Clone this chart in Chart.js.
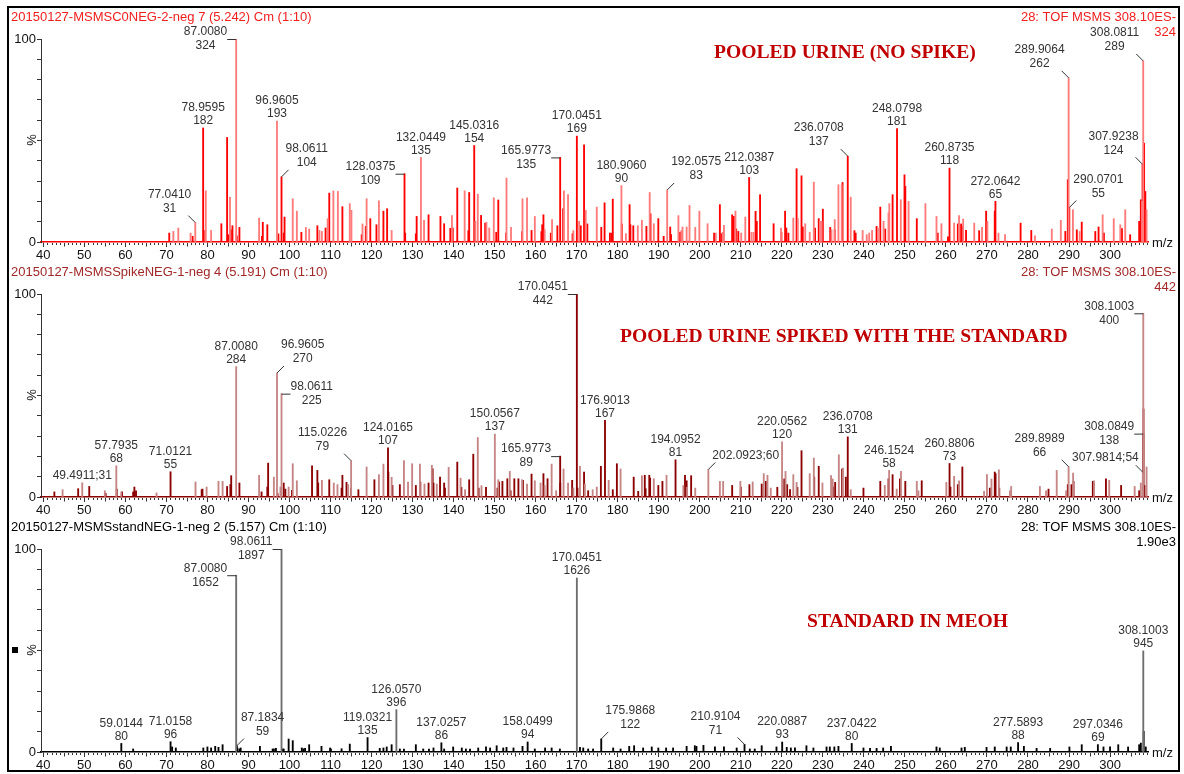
<!DOCTYPE html>
<html><head><meta charset="utf-8">
<script src="https://cdn.jsdelivr.net/npm/chart.js@4.4.1/dist/chart.umd.min.js"></script>
<style>
html,body{margin:0;padding:0;background:#fff;}
#wrap{position:relative;width:1184px;height:774px;overflow:hidden;background:#fff;}
#frame{position:absolute;left:7px;top:6px;width:1169px;height:762px;border:2px solid #000;pointer-events:none;}
canvas{position:absolute;left:0;}
</style></head><body>
<div id="wrap">
<canvas id="c1" width="1184" height="264" style="top:0px"></canvas>
<canvas id="c2" width="1184" height="264" style="top:255px"></canvas>
<canvas id="c3" width="1184" height="264" style="top:510px"></canvas>
<div id="frame"></div>
</div>
<script>
// ---------- axis ticks ----------
const xTickValues = [40,50,60,70,80,90,100,110,120,130,140,150,160,170,180,190,200,210,220,230,240,250,260,270,280,290,300];
const yTickValues = [0,10,20,30,40,50,60,70,80,90,100];
const yLabeledTicks = [0,100];

// ---------- panel titles ----------
const titles = ["20150127-MSMSC0NEG-2-neg 7 (5.242) Cm (1:10)", "20150127-MSMSSpikeNEG-1-neg 4 (5.191) Cm (1:10)", "20150127-MSMSstandNEG-1-neg 2 (5.157) Cm (1:10)"];
const functionText = "28: TOF MSMS 308.10ES-";
const baseText = ["324", "442", "1.90e3"];
const sampleNames = ["POOLED URINE (NO SPIKE)", "POOLED URINE SPIKED WITH THE STANDARD", "STANDARD IN MEOH"];
const baseIntensity = [324, 442, 1897];

// ---------- panel 1: pooled urine (no spike) ----------
const p1LightMz = [71.7,72.9,75.9,79.6,80.9,85.5,92.6,100.8,101.8,104.0,104.8,107.3,107.9,109.3,110.7,111.8,114.7,115.1,117.8,118.8,121.8,124.9,132.8,139.6,142.7,145.3,145.9,148.0,148.7,149.8,152.9,154.0,156.8,157.9,159.8,162.2,164.0,166.9,167.9,169.2,170.6,172.2,174.9,182.0,184.9,185.9,187.8,188.8,194.8,195.5,195.8,196.8,197.5,198.9,199.9,201.9,203.9,205.6,205.9,208.7,210.1,211.1,212.6,213.1,219.8,222.8,223.9,225.7,226.8,227.8,229.3,229.7,232.1,232.9,233.8,234.6,236.8,239.7,240.7,241.3,242.0,243.7,244.8,246.0,246.2,249.0,250.9,255.0,257.7,258.9,262.0,263.2,264.2,266.9,268.8,270.1,272.8,274.4,281.7,285.8,288.0,290.95,292.6,298.2,300.9,302.5,303.7,307.8,308.9];
const p1LightPct = [5.2,6.9,4.4,25.2,5.7,22.0,11.8,21.3,15.2,7.2,6.4,5.7,5.2,11.5,25.2,24.9,18.9,15.6,8.9,21.3,20.3,5.7,10.7,13.0,25.2,10.2,23.6,9.7,6.9,21.8,31.5,7.2,21.3,21.8,12.6,6.1,11.0,25.2,23.3,5.6,10.2,15.6,17.2,4.1,8.0,10.7,24.4,9.0,13.0,5.6,7.4,7.4,18.0,7.2,15.2,9.0,4.4,4.8,8.2,15.2,4.4,12.3,4.8,4.8,6.9,11.8,11.5,9.0,4.8,29.5,10.2,10.2,6.0,11.0,28.2,28.2,22.1,5.7,3.6,4.4,5.7,6.9,10.2,14.3,18.9,20.8,20.0,18.9,12.6,9.0,9.3,13.0,11.3,9.3,7.2,10.2,4.4,3.6,3.1,6.4,10.7,15.9,5.2,13.4,11.5,8.5,15.9,20.0,15.9];
const p1DarkMz = [70.7,76.4,79.1,83.4,84.8,85.1,85.7,86.1,87.15,87.8,93.3,93.5,94.6,97.3,98.6,98.8,102.9,106.8,108.8,109.7,112.9,117.6,118.6,119.7,121.2,122.9,123.8,128.2,130.8,131.0,133.9,136.8,137.7,139.2,139.8,140.9,143.6,143.8,146.7,147.7,150.4,150.9,152.8,156.7,159.0,161.4,161.6,161.9,163.7,165.3,166.7,169.0,171.0,171.8,172.6,176.0,176.8,178.1,178.5,178.8,181.0,182.9,183.1,183.8,187.0,188.0,189.9,191.2,192.8,193.0,195.2,203.5,204.9,205.3,207.9,208.3,208.9,209.4,213.6,213.9,214.7,218.0,219.9,220.8,221.1,221.6,223.6,224.8,225.1,228.1,229.0,230.0,231.8,232.9,234.8,237.7,238.0,243.1,244.0,245.2,247.0,249.9,250.1,252.9,258.0,260.5,262.9,263.7,264.0,264.9,268.1,269.8,271.9,278.2,280.8,289.1,289.7,291.9,293.1,296.4,297.2,298.5,302.9,304.9,307.1,307.5,308.3,308.6];
const p1DarkPct = [4.4,2.8,5.7,9.0,51.5,3.6,6.0,8.0,3.0,7.2,2.8,9.7,8.5,4.0,4.4,12.3,4.8,8.0,6.9,24.1,17.4,3.6,7.7,11.5,8.5,15.2,16.4,4.4,4.0,12.6,13.4,12.6,9.0,6.7,6.9,26.6,5.6,24.4,13.1,9.3,4.8,20.7,4.4,5.1,5.7,5.1,8.5,13.4,4.4,8.0,16.4,4.1,8.0,47.9,8.9,7.2,19.3,4.4,4.4,21.1,8.9,18.4,8.5,8.0,7.7,13.9,11.5,2.8,7.4,3.6,4.8,4.4,18.4,4.1,13.4,12.6,6.4,5.2,15.1,10.2,23.3,9.0,4.8,15.2,6.9,4.4,36.1,32.6,7.4,6.9,11.5,16.2,7.2,6.0,29.3,5.6,4.4,7.7,17.2,6.4,23.3,33.1,27.4,11.5,4.4,2.5,8.9,8.9,7.7,5.7,5.6,15.2,15.2,9.3,5.7,5.2,30.7,6.0,9.8,5.2,7.4,4.4,6.6,3.6,10.2,20.8,48.7,24.9];
const p1PeakMz = [77.0410,78.9595,87.0080,96.9605,98.0611,128.0375,132.0449,145.0316,165.9773,170.0451,180.9060,192.0575,212.0387,236.0708,248.0798,260.8735,272.0642,289.9064,290.0701,307.9238,308.0811];
const p1PeakInt = [31,182,324,193,104,109,135,154,135,169,90,83,103,137,181,118,65,262,55,124,289];

// ---------- panel 2: pooled urine spiked ----------
const p2LightMz = [44.7,55.0,59.0,67.6,77.1,79.8,82.7,83.7,92.6,96.2,97.8,99.8,100.8,101.8,107.9,110.8,111.7,114.3,118.8,121.8,122.9,124.9,127.9,128.9,129.9,131.8,132.9,134.7,135.9,138.8,141.7,142.8,145.9,146.8,150.9,153.7,156.7,157.9,159.8,161.2,162.2,163.9,165.0,166.8,167.9,169.2,170.8,172.0,173.9,174.9,177.8,180.7,185.9,188.8,191.9,196.0,196.9,198.9,204.9,205.7,209.9,212.9,215.6,216.5,217.3,220.9,222.8,223.6,226.8,227.8,229.9,232.0,232.4,233.9,234.9,236.8,245.1,248.0,249.05,252.9,253.3,260.1,262.0,263.2,269.3,270.0,271.1,272.9,275.6,275.9,282.9,284.4,287.0,289.3,291.0,296.1,299.8,306.0,307.5,308.9];
const p2LightPct = [3.6,3.1,2.5,2.0,7.4,4.9,7.7,7.7,10.7,9.8,4.9,4.9,16.4,8.0,8.2,6.9,6.1,6.1,14.8,11.0,16.2,9.7,17.9,7.4,16.4,16.2,6.4,15.6,6.4,14.6,9.3,3.6,29.3,5.6,8.5,12.6,8.5,6.4,8.0,6.9,5.7,16.2,3.1,13.8,6.9,4.4,15.1,6.4,3.6,4.9,8.2,13.8,10.5,9.0,10.7,5.7,4.8,4.4,7.7,7.7,7.7,7.4,11.5,10.7,4.4,12.6,11.0,7.2,11.5,19.2,6.9,10.5,8.9,20.8,14.3,3.6,5.7,3.9,12.6,7.7,3.1,7.2,10.2,8.0,2.8,11.0,8.9,13.4,3.1,5.2,5.2,3.1,13.1,3.1,11.8,8.0,8.2,5.2,6.9,14.8];
const p2DarkMz = [42.7,48.5,51.2,55.2,57.9,59.2,61.9,62.2,62.6,78.6,78.8,84.8,85.6,85.8,87.8,93.2,94.6,94.8,97.1,98.6,99.0,100.6,105.5,106.8,107.0,109.7,112.7,112.9,113.9,115.0,116.8,120.7,124.1,125.1,126.9,130.8,131.9,133.9,134.9,135.1,136.7,137.7,137.9,140.9,141.9,143.8,144.8,146.1,147.9,150.7,151.1,151.9,153.1,153.9,154.8,155.8,156.9,159.0,161.9,162.9,166.0,168.9,170.2,171.8,172.8,175.9,178.8,179.8,183.9,185.0,186.6,186.8,187.7,187.9,189.9,190.9,196.4,196.8,197.9,207.9,210.0,212.1,215.1,216.1,218.9,220.6,221.3,222.0,223.8,224.8,227.9,229.0,232.5,233.0,234.7,235.6,239.9,244.0,246.0,247.0,248.8,250.1,254.1,261.1,262.9,264.0,270.7,271.9,272.1,273.0,285.0,289.7,290.6,291.1,295.8,299.0,302.7,307.1,308.15,308.4];
const p2DarkPct = [2.5,4.1,5.2,1.8,3.9,2.5,2.5,4.9,3.1,3.6,3.9,5.2,6.1,10.5,6.9,2.5,4.9,16.7,1.8,6.9,3.9,3.3,15.4,13.1,6.9,8.5,4.4,10.7,7.2,4.4,3.6,8.5,12.3,5.7,6.1,5.7,7.4,6.9,13.9,6.9,9.8,6.9,4.4,17.2,4.8,8.5,21.1,4.4,4.8,4.4,7.4,7.7,9.0,3.1,9.0,9.0,8.2,11.3,11.5,9.0,6.9,8.2,4.4,12.3,3.1,15.1,3.6,16.4,9.8,2.8,10.7,4.1,10.7,9.3,5.7,7.7,10.7,8.0,10.5,5.7,4.9,6.1,6.4,7.7,4.8,8.9,6.1,3.6,4.8,22.8,9.8,15.1,4.9,7.2,13.8,9.8,4.4,7.7,9.0,11.0,9.0,7.7,8.0,4.9,6.1,14.8,4.4,12.3,11.5,4.4,3.9,6.1,6.1,7.7,7.7,9.0,5.7,3.1,43.4,5.7];
const p2PeakMz = [49.4911,57.7935,71.0121,87.0080,96.9605,98.0611,115.0226,124.0165,150.0567,165.9773,170.0451,176.9013,194.0952,202.0923,220.0562,236.0708,246.1524,260.8806,289.8989,307.9814,308.0849,308.1003];
const p2PeakInt = [31,68,55,284,270,225,79,107,137,89,442,167,81,60,120,131,58,73,66,54,138,400];

// ---------- panel 3: standard in MeOH ----------
const p3SmallMz = [61.9,71.4,72.3,79.0,80.0,80.9,81.9,82.7,83.7,87.3,87.8,88.1,92.8,95.9,96.2,96.7,98.3,98.6,99.8,100.8,103.0,103.4,103.8,104.8,107.8,109.9,110.1,112.7,114.7,122.0,122.9,123.7,124.9,126.9,127.9,130.8,132.6,134.0,135.1,137.7,139.9,142.0,143.0,144.0,146.0,147.9,148.9,150.5,152.1,152.9,154.6,156.8,159.8,162.3,163.9,165.9,170.8,171.6,172.8,174.0,178.9,180.7,182.8,184.0,186.2,188.3,189.9,191.8,193.5,196.8,198.8,199.2,200.9,203.7,205.9,209.0,212.2,213.4,215.1,218.7,221.2,222.2,223.2,226.0,227.7,230.9,231.7,232.8,233.8,239.9,241.5,243.1,244.7,246.6,257.7,258.5,263.8,264.6,269.9,271.9,274.8,275.8,279.0,282.1,285.4,290.1,293.1,298.4,300.0,302.0,304.4,307.1,307.5,308.2,308.7];
const p3SmallPct = [1.5,2.5,2.0,2.0,2.5,2.0,2.8,2.3,3.6,2.0,1.5,2.0,2.8,1.5,1.5,1.8,1.5,1.5,6.4,5.6,2.0,1.6,1.8,3.6,2.8,2.0,1.5,1.6,3.9,1.8,2.0,2.5,3.6,1.5,1.5,3.6,1.5,1.5,2.0,1.5,2.5,2.0,1.5,1.5,2.0,2.5,2.0,3.1,2.0,2.3,2.0,2.8,1.5,2.0,2.0,1.5,2.3,2.0,1.5,1.5,2.0,1.5,2.8,3.1,2.0,2.5,2.0,2.0,2.0,2.8,3.1,2.8,3.3,2.5,2.5,2.0,1.5,1.5,3.1,2.5,2.3,2.0,2.0,3.1,2.0,2.5,2.5,2.5,2.8,2.0,1.8,1.8,2.0,2.8,2.5,2.0,2.0,2.3,2.3,2.5,2.5,2.5,2.8,1.8,1.8,2.5,3.6,2.5,2.5,3.6,2.5,3.6,4.4,10.2,2.5];
const p3PeakMz = [59.0144,71.0158,87.0080,87.1834,98.0611,119.0321,126.0570,137.0257,158.0499,170.0451,175.9868,210.9104,220.0887,237.0422,277.5893,297.0346,308.1003];
const p3PeakInt = [80,96,1652,59,1897,135,396,86,94,1626,122,71,93,80,88,69,945];

// ---------- styles / layout (kept apart from the data) ----------
const SANS = "'Liberation Sans', Arial, sans-serif";
const SERIF = "'Liberation Serif', 'Times New Roman', serif";
const xMin = 39.44, xMax = 309.25;
const p1PeakTone = ['L','D','L','L','D','D','L','D','D','D','L','L','D','D','D','D','D','L','D','D','L'];
const p1PeakMode = ['ld','a','lh','a','rd','lh','a','a','lh','a','a','rd','a','ld','a','a','a','ld','rd','ld','ld'];
const p2PeakTone = ['L','L','D','L','L','L','L','D','L','D','D','D','D','L','L','D','L','D','L','L','D','L'];
const p2PeakMode = ['a1','a','a','a','rd','rh','ld','a','a','lh','lh','a','a','rd1','a','a','a','a','ld','ld1','lh','lh'];
const p3PeakTone = ['D','D','L','D','L','D','L','D','D','L','D','D','D','D','D','D','L'];
const p3PeakMode = ['a','a','lh','rd','lh','a','a','a','a','a','rd','ld','a','a','a','a','a'];

function pts(mz, pct){ return mz.map((m,i)=>({x:m, y:pct[i]})); }
function peakPts(mz, ints, base, tone, want){
  const out=[]; mz.forEach((m,i)=>{ if(tone[i]===want) out.push({x:m, y:ints[i]/base*100}); }); return out;
}

const minorTickPlugin = {
  id:'minorTicks',
  afterDraw(chart){
    const ctx=chart.ctx, xs=chart.scales.x, b=chart.chartArea.bottom;
    ctx.save(); ctx.strokeStyle='#333'; ctx.lineWidth=1;
    for(let v=Math.ceil(xMin); v<=Math.floor(xMax); v++){
      if(v%10===0) continue;
      const len = (v%5===0)?3.5:2;
      const px=Math.round(xs.getPixelForValue(v))+0.5;
      ctx.beginPath(); ctx.moveTo(px,b+1); ctx.lineTo(px,b+1+len); ctx.stroke();
    }
    ctx.restore();
  }
};

function makeTextPlugin(idx, cfg){
  return {
    id:'texts'+idx,
    afterDraw(chart){
      const ctx=chart.ctx, xs=chart.scales.x, ys=chart.scales.y;
      ctx.save();
      ctx.font='13px '+SANS; ctx.textBaseline='middle';
      ctx.fillStyle=cfg.titleColor; ctx.textAlign='left';
      ctx.fillText(titles[idx], 11, 17);
      ctx.textAlign='right';
      ctx.fillText(functionText, 1176, 17);
      ctx.fillText(baseText[idx], 1176, 32);
      ctx.font='bold 19.6px '+SERIF; ctx.fillStyle='#c00000'; ctx.textAlign='left';
      ctx.fillText(sampleNames[idx], cfg.nameX, cfg.nameY);
      ctx.save(); ctx.translate(32, 140); ctx.rotate(-Math.PI/2);
      ctx.font='13px '+SANS; ctx.fillStyle='#111'; ctx.textAlign='center';
      ctx.fillText('%',0,0); ctx.restore();
      ctx.font='13px '+SANS; ctx.fillStyle='#111'; ctx.textAlign='left';
      ctx.fillText('m/z', 1152, 243);
      if(cfg.square){ ctx.fillStyle='#000'; ctx.fillRect(12,137,6,6); }
      ctx.font='12px '+SANS; ctx.fillStyle='#333'; ctx.strokeStyle='#333'; ctx.lineWidth=1;
      cfg.peakMz.forEach((m,i)=>{
        const mode=cfg.peakMode[i];
        const single = mode.endsWith('1');
        const md = single? mode.slice(0,-1) : mode;
        const bx = xs.getPixelForValue(m);
        const top = ys.getPixelForValue(cfg.peakInt[i]/cfg.base*100);
        const mzT = m.toFixed(4), inT = String(cfg.peakInt[i]);
        const l1 = single? mzT+';'+inT : mzT;
        const w1 = ctx.measureText(l1).width;
        let cx, y1, y2;
        const line=(a,b,c,d)=>{ctx.beginPath();ctx.moveTo(a,b);ctx.lineTo(c,d);ctx.stroke();};
        if(md==='a'){ cx=bx; y1= single? top-7 : top-20; y2=top-7; }
        else if(md==='lh'){ cx=bx-9-w1/2; y1=top-7; y2=top+7; line(bx-9,top+0.5,bx,top+0.5); }
        else if(md==='rh'){ cx=bx+9+w1/2; y1=top-7; y2=top+7; line(bx,top+0.5,bx+9,top+0.5); }
        else if(md==='ld'){ cx=bx-4-w1/2; y1= single? top-15: top-28; y2=top-14; line(bx-7,top-7,bx,top); }
        else if(md==='rd'){ cx=bx+4+w1/2; y1= single? top-14: top-28; y2=top-14; line(bx,top,bx+7,top-7); }
        ctx.textAlign='center';
        ctx.fillText(l1, cx, y1);
        if(!single) ctx.fillText(inT, cx, y2);
      });
      ctx.restore();
    }
  };
}

function makePanel(canvasId, idx, cfg){
  const dsCommon = {barThickness:1.2, grouped:false, borderWidth:0, categoryPercentage:1, barPercentage:1};
  new Chart(document.getElementById(canvasId).getContext('2d'), {
    type:'bar',
    data:{datasets:[
      Object.assign({data: cfg.lightData, backgroundColor: cfg.lightColor}, dsCommon),
      Object.assign({data: cfg.darkData, backgroundColor: cfg.darkColor}, dsCommon)
    ]},
    options:{
      responsive:false, animation:false, events:[],
      layout:{padding:{top:39,right:36,bottom:0,left:0}},
      plugins:{legend:{display:false}, tooltip:{enabled:false}, title:{display:false}},
      scales:{
        x:{type:'linear', min:xMin, max:xMax, offset:false,
          afterBuildTicks:s=>{ s.ticks = xTickValues.map(v=>({value:v})); },
          afterFit:s=>{ s.height=22; },
          grid:{display:true, offset:false, drawOnChartArea:false, drawTicks:true, tickLength:5, tickColor:'#333', tickWidth:1},
          border:{display:true, color:cfg.baseColor, width:1.5},
          ticks:{font:{family:SANS,size:13}, color:'#111', padding:1, maxRotation:0, autoSkip:false, includeBounds:false, callback:v=>String(v)}
        },
        y:{type:'linear', min:0, max:100,
          afterBuildTicks:s=>{ s.ticks = yTickValues.map(v=>({value:v})); },
          afterFit:s=>{ s.width=41; },
          grid:{display:true, drawOnChartArea:false, drawTicks:true, tickLength:4, tickColor:'#333'},
          border:{display:true, color:'#333', width:1},
          ticks:{font:{family:SANS,size:13}, color:'#111', padding:1, autoSkip:false, callback:v=> yLabeledTicks.includes(v)? String(v):''}
        }
      }
    },
    plugins:[minorTickPlugin, makeTextPlugin(idx, cfg)]
  });
}

makePanel('c1', 0, {
  lightData: pts(p1LightMz,p1LightPct).concat(peakPts(p1PeakMz,p1PeakInt,baseIntensity[0],p1PeakTone,'L')),
  darkData: pts(p1DarkMz,p1DarkPct).concat(peakPts(p1PeakMz,p1PeakInt,baseIntensity[0],p1PeakTone,'D')),
  lightColor:'#ff7b7b', darkColor:'#ff0000', baseColor:'#ff0000', titleColor:'#f02020',
  nameX:714, nameY:53, peakMz:p1PeakMz, peakInt:p1PeakInt, peakMode:p1PeakMode, base:baseIntensity[0]
});
makePanel('c2', 1, {
  lightData: pts(p2LightMz,p2LightPct).concat(peakPts(p2PeakMz,p2PeakInt,baseIntensity[1],p2PeakTone,'L')),
  darkData: pts(p2DarkMz,p2DarkPct).concat(peakPts(p2PeakMz,p2PeakInt,baseIntensity[1],p2PeakTone,'D')),
  lightColor:'#c58585', darkColor:'#8b0000', baseColor:'#8b0000', titleColor:'#a02828',
  nameX:620, nameY:82, peakMz:p2PeakMz, peakInt:p2PeakInt, peakMode:p2PeakMode, base:baseIntensity[1]
});
makePanel('c3', 2, {
  lightData: peakPts(p3PeakMz,p3PeakInt,baseIntensity[2],p3PeakTone,'L'),
  darkData: pts(p3SmallMz,p3SmallPct).concat(peakPts(p3PeakMz,p3PeakInt,baseIntensity[2],p3PeakTone,'D')),
  lightColor:'#6e6e6e', darkColor:'#000000', baseColor:'#000000', titleColor:'#000000',
  nameX:807, nameY:112, peakMz:p3PeakMz, peakInt:p3PeakInt, peakMode:p3PeakMode, base:baseIntensity[2], square:true
});
</script>
</body></html>
